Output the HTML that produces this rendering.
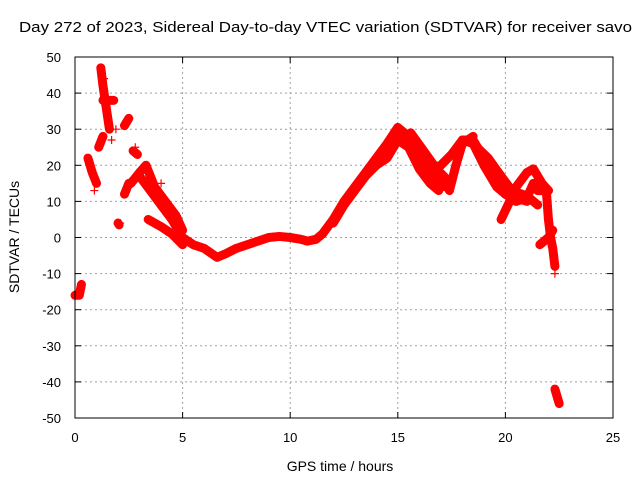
<!DOCTYPE html>
<html><head><meta charset="utf-8"><style>
html,body{margin:0;padding:0;background:#fff;width:640px;height:480px;overflow:hidden}
svg{font-family:"Liberation Sans",sans-serif;font-size:13px}
</style></head><body>
<svg id="c" width="640" height="480">
<text x="19" y="32" font-size="15" textLength="613" lengthAdjust="spacingAndGlyphs">Day 272 of 2023, Sidereal Day-to-day VTEC variation (SDTVAR) for receiver savo</text>
<g id="grid"></g><g id="marks"></g><g id="axes"></g>
<text x="340" y="471" text-anchor="middle" font-size="14">GPS time / hours</text>
<text transform="translate(19,237) rotate(-90)" text-anchor="middle" font-size="14">SDTVAR / TECUs</text>
</svg>
<script>
const xTicks=[0,5,10,15,20,25];
const yTicks=[-50,-40,-30,-20,-10,0,10,20,30,40,50];
const strandMain=[[3.0,17],[3.5,13],[4,9],[4.5,5],[5,0],[5.5,-2],[6,-3],[6.6,-5.5],[7,-4.5],[7.5,-3],[8,-2],[8.5,-1],[9,0],[9.5,0.3],[10,0],[10.5,-0.5],[10.8,-1],[11.2,-0.5],[11.5,1],[12,5],[12.5,10],[13,14],[13.5,18],[14,22],[14.5,26],[15,30.5],[15.5,28],[16,22],[16.5,19],[17,20],[17.5,23],[18,27],[18.5,27],[19,22],[19.5,16],[20,12],[20.5,10],[21,11],[21.3,15],[21.5,13],[22,13]];
const strandB=[[12,4],[12.5,9],[13,13],[13.5,17],[14,20],[14.5,22],[15,27],[15.5,25],[16,19],[16.5,15],[16.9,13]];
const strandC=[[15,30],[15.6,25],[16.2,21],[16.8,16],[17.2,14]];
const strandD=[[15.6,29],[16.2,24],[16.8,19],[17.3,16]];
const strandE=[[17.4,13],[17.7,20],[18,26],[18.5,28]];
const strandF=[[18,27],[18.5,26],[19,20],[19.6,14],[20,12],[21,10]];
const strandG=[[18.5,26],[19.2,22],[19.8,17],[20.3,13],[21,11.5],[21.5,9]];
const strandH=[[19.8,5],[20.2,10],[20.5,14],[21,18],[21.3,19],[21.7,15],[22,13]];
const strandTail=[[21.9,13],[22,5],[22.1,0],[22.2,-3],[22.3,-8]];
const strandTail2=[[21.6,-2],[22,0],[22.2,2]];
const strandBottom=[[22.3,-42],[22.4,-44],[22.5,-46]];
const strandUpper=[[2.6,15],[3,18],[3.3,20],[3.7,14],[4.2,10],[4.7,6],[5,2]];
const strandLower=[[3.4,5],[4,3],[4.5,1],[5,-2]];
const strandE1=[[0,-16],[0.2,-16],[0.3,-13]];
const strandE2=[[0.6,22],[0.8,18],[1.0,15]];
const strandE3=[[1.2,47],[1.3,42],[1.4,38],[1.5,34],[1.6,30]];
const strandE4=[[1.3,38],[1.8,38]];
const strandE5=[[1.1,25],[1.3,28]];
const strandE6=[[2,4],[2.05,3.5]];
const strandE7=[[2.3,12],[2.5,15]];
const strandE8=[[2.3,31],[2.5,33]];
const strandE9=[[2.7,24],[2.9,23]];
const strands=[strandMain,strandB,strandC,strandD,strandE,strandF,strandG,strandH,strandTail,strandTail2,strandBottom,strandUpper,strandLower,strandE1,strandE2,strandE3,strandE4,strandE5,strandE6,strandE7,strandE8,strandE9];
const sparse=[[0.9,13],[1.7,27],[1.9,30],[2.1,4],[2.8,25],[4.0,15],[22.3,-10],[1.35,44],[0.3,-14]];

const X0=75,X1=613,Y0=418,Y1=57;
function sx(v){return X0+(v-0)/25*(X1-X0);}
function sy(v){return Y0-(v+50)/100*(Y0-Y1);}
const NS="http://www.w3.org/2000/svg";
function mk(t,a,p){const e=document.createElementNS(NS,t);for(const k in a)e.setAttribute(k,a[k]);p.appendChild(e);return e;}
const grid=document.getElementById('grid'),axes=document.getElementById('axes'),marks=document.getElementById('marks');
xTicks.forEach(t=>{const x=sx(t);
 if(t>0&&t<25){const g=mk('line',{x1:x,x2:x,y1:Y1,y2:Y0,stroke:'#a0a0a0','stroke-dasharray':'2,3'},grid);
 
 }
 mk('line',{x1:x,x2:x,y1:Y0,y2:Y0-6,stroke:'#000'},axes);
 mk('line',{x1:x,x2:x,y1:Y1,y2:Y1+6,stroke:'#000'},axes);
 const l=mk('text',{x:x,y:Y0+24,'text-anchor':'middle'},axes);l.textContent=t;
 
 });
yTicks.forEach(t=>{const y=sy(t);
 if(t>-50&&t<50){const g=mk('line',{x1:X0,x2:X1,y1:y,y2:y,stroke:'#a0a0a0','stroke-dasharray':'2,3'},grid);
 
 }
 mk('line',{x1:X0,x2:X0+6,y1:y,y2:y,stroke:'#000'},axes);
 mk('line',{x1:X1,x2:X1-6,y1:y,y2:y,stroke:'#000'},axes);
 const l=mk('text',{x:X0-14,y:y+5,'text-anchor':'end'},axes);l.textContent=t;
 
 });
const b=mk('rect',{x:X0,y:Y1,width:X1-X0,height:Y0-Y1,fill:'none',stroke:'#000'},axes);


function plus(x,y){mk('path',{d:`M${x-4},${y}h8M${x},${y-4}v8`,stroke:'#f00','stroke-width':1.2},marks);}
strands.forEach(s=>{
 const p=mk('polyline',{points:s.map(d=>sx(d[0])+','+sy(d[1])).join(' '),fill:'none',stroke:'#f00','stroke-width':9,'stroke-linejoin':'round','stroke-linecap':'round'},marks);
 
 
 s.forEach(d=>plus(sx(d[0]),sy(d[1])));
});
sparse.forEach(d=>plus(sx(d[0]),sy(d[1])));
</script>
</body></html>
